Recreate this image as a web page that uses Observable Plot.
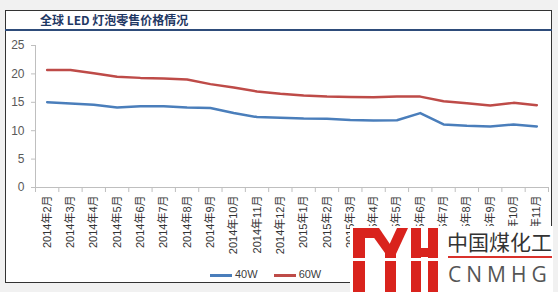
<!DOCTYPE html>
<html>
<head>
<meta charset="utf-8">
<script src="https://cdn.jsdelivr.net/npm/d3@7"></script>
<script src="https://cdn.jsdelivr.net/npm/@observablehq/plot@0.6"></script>
<style>
  html, body { margin: 0; padding: 0; background: #f1f1f1; }
  #wrap { position: relative; width: 558px; height: 292px; overflow: hidden; font-family: "Liberation Sans", "Noto Sans CJK SC", sans-serif; }
  #box { position: absolute; left: 5px; top: 10px; width: 547px; height: 273px; background: #fff; border: 1px solid #333; box-sizing: border-box; }
  #title { position: absolute; left: 40px; top: 11px; font: bold 12px "Noto Sans CJK SC", sans-serif; color: #1F3864; white-space: nowrap; }
  #rule { position: absolute; left: 5px; top: 29px; width: 547px; height: 2px; background: #2E4C7A; }
  #chart { position: absolute; left: 0; top: 0; }
  #legend { position: absolute; top: 268px; left: 210px; font-size: 11px; color: #404040; white-space: nowrap; }
  #legend span.item { display: inline-block; margin-right: 16px; }
  #legend span.sw { display: inline-block; width: 22px; height: 3px; vertical-align: middle; margin-right: 3px; }
  #logo { position: absolute; left: 350px; top: 226px; width: 203px; height: 66px; background: #fff; }
  #logo .cn { position: absolute; left: 97px; top: 2px; font: 21px "Noto Sans CJK SC", sans-serif; color: #333; line-height: 26px; white-space: nowrap; }
  #logo .line { position: absolute; left: 98px; top: 30px; width: 104px; height: 2px; background: #D9312B; }
  #logo .en { position: absolute; left: 98px; top: 34px; font: 21px "Open Sans", sans-serif; color: #555; letter-spacing: 5px; line-height: 28px; white-space: nowrap; }
</style>
</head>
<body>
<div id="wrap">
  <div id="box"></div>
  <div id="title">全球 LED 灯泡零售价格情况</div>
  <div id="rule"></div>
  <div id="chart"></div>
  <div id="legend"></div>
  <div id="logo">
    <svg width="92" height="66" style="position:absolute;left:0;top:0">
      <g fill="#D9231D">
        <rect x="3" y="2" width="12" height="64"></rect>
        <rect x="3" y="2" width="26" height="10"></rect>
        <polygon points="17,2 29,2 46,27 35,27"></polygon>
        <polygon points="47,2 58,2 46,28 35,28"></polygon>
        <rect x="35" y="22" width="11" height="44"></rect>
        <rect x="61" y="2" width="10" height="64"></rect>
        <rect x="78" y="2" width="10" height="64"></rect>
        <rect x="61" y="22" width="27" height="9"></rect>
      </g>
      <rect x="0" y="32" width="92" height="3" fill="#fff"></rect>
    </svg>
    <div class="cn">中国煤化工</div>
    <div class="line"></div>
    <div class="en">CNMH<span style="letter-spacing:0">G</span></div>
  </div>
</div>
<script>
const months = ["2014年2月","2014年3月","2014年4月","2014年5月","2014年6月","2014年7月","2014年8月","2014年9月","2014年10月","2014年11月","2014年12月","2015年1月","2015年2月","2015年3月","2015年4月","2015年5月","2015年6月","2015年7月","2015年8月","2015年9月","2015年10月","2015年11月"];
const series = ["40W", "60W"];
const colors = ["#4A7EBB", "#BE4B48"];
const w40 = [15.0, 14.8, 14.55, 14.1, 14.3, 14.3, 14.1, 14.0, 13.1, 12.4, 12.3, 12.15, 12.1, 11.9, 11.8, 11.85, 13.1, 11.1, 10.85, 10.75, 11.1, 10.75];
const w60 = [20.7, 20.7, 20.1, 19.5, 19.3, 19.2, 19.0, 18.2, 17.6, 16.9, 16.5, 16.2, 16.0, 15.95, 15.9, 16.0, 16.0, 15.2, 14.85, 14.45, 14.9, 14.5];
const yTicks = [0, 5, 10, 15, 20, 25];

const data = months.flatMap((m, i) => [
  {i, series: series[0], value: w40[i]},
  {i, series: series[1], value: w60[i]}
]);

const chart = Plot.plot({
  width: 558,
  height: 262,
  marginTop: 45,
  marginBottom: 75,
  marginLeft: 35,
  marginRight: 10,
  style: {background: "transparent", overflow: "visible", fontFamily: "'Liberation Sans', 'Noto Sans CJK SC', sans-serif", fontSize: "11px", color: "#333"},
  x: {type: "linear", domain: [-0.5, months.length - 0.5]},
  y: {domain: [0, 25]},
  color: {domain: series, range: colors},
  marks: [
    Plot.ruleY([0], {stroke: "#BFBFBF"}),
    Plot.ruleX([-0.5], {stroke: "#BFBFBF"}),
    Plot.axisY({ticks: yTicks, tickSize: 4, tickPadding: 7, stroke: "#BFBFBF", label: null, fontSize: 12, color: "#595959"}),
    Plot.axisX({ticks: d3.range(months.length), tickSize: 0, tickPadding: 8, tickRotate: -90, tickFormat: i => months[i], label: null}),
    Plot.axisX({ticks: d3.range(-0.5, months.length, 1), tickSize: 5, tickFormat: () => "", stroke: "#BFBFBF", label: null}),
    Plot.lineY(data, {x: "i", y: "value", stroke: "series", strokeWidth: 2.5})
  ]
});
document.getElementById("chart").appendChild(chart);

const legend = document.getElementById("legend");
series.forEach((s, k) => {
  const item = document.createElement("span");
  item.className = "item";
  const sw = document.createElement("span");
  sw.className = "sw";
  sw.style.background = colors[k];
  item.appendChild(sw);
  item.appendChild(document.createTextNode(s));
  legend.appendChild(item);
});
</script>
</body>
</html>
